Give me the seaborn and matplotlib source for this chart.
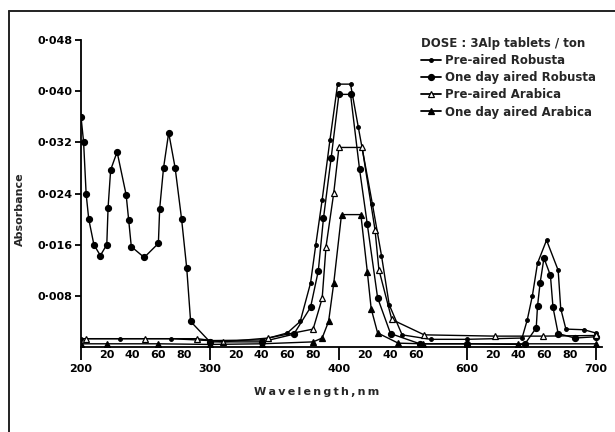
import numpy as np
import pandas as pd
import matplotlib
matplotlib.use("Agg")
import matplotlib.pyplot as plt
from matplotlib.lines import Line2D
import seaborn as sns

# ---------------- data ----------------
series_names = ["Pre-aired Robusta", "One day aired Robusta",
                "Pre-aired Arabica", "One day aired Arabica"]

pre_robusta_wl = [200, 230, 270, 300, 340, 360, 370, 378, 382, 387, 393, 399, 409,
                  415, 426, 433, 439, 449, 500, 600, 643, 647, 651, 655, 662, 671,
                  673, 677, 691, 700]
pre_robusta_abs = [0.0013, 0.0013, 0.0013, 0.0010, 0.0011, 0.0022, 0.0040, 0.0100,
                   0.0159, 0.0230, 0.0323, 0.0411, 0.0411, 0.0344, 0.0223, 0.0143,
                   0.0066, 0.0019, 0.0012, 0.0012, 0.0014, 0.0042, 0.0080, 0.0131,
                   0.0167, 0.0120, 0.0060, 0.0028, 0.0027, 0.0022]

one_robusta_wl = [200, 202, 204, 206, 210, 215, 220, 221, 223, 228, 235, 237, 239,
                  249, 260, 261, 264, 268, 273, 278, 282, 285, 300, 340, 365, 378,
                  384, 388, 394, 400, 409, 416, 422, 430, 440, 470, 600, 645, 654,
                  655, 657, 660, 665, 667, 671, 684, 700]
one_robusta_abs = [0.0360, 0.0321, 0.0239, 0.0200, 0.0160, 0.0143, 0.0160, 0.0218,
                   0.0277, 0.0305, 0.0238, 0.0198, 0.0157, 0.0140, 0.0162, 0.0216,
                   0.0280, 0.0335, 0.0280, 0.0200, 0.0123, 0.0040, 0.0008, 0.0008,
                   0.0020, 0.0062, 0.0119, 0.0201, 0.0296, 0.0395, 0.0395, 0.0278,
                   0.0192, 0.0077, 0.0021, 0.0005, 0.0005, 0.0004, 0.0030, 0.0064,
                   0.0100, 0.0139, 0.0112, 0.0062, 0.0021, 0.0014, 0.0016]

pre_arabica_wl = [204, 250, 290, 310, 345, 380, 387, 390, 396, 400, 418, 428, 431,
                  441, 482, 622, 659, 700]
pre_arabica_abs = [0.0013, 0.0013, 0.0013, 0.0008, 0.0014, 0.0028, 0.0076, 0.0157,
                   0.0241, 0.0312, 0.0312, 0.0183, 0.0121, 0.0043, 0.0019, 0.0017,
                   0.0017, 0.0018]

one_arabica_wl = [200, 220, 260, 300, 340, 380, 387, 392, 396, 402, 417, 422, 425,
                  430, 446, 480, 600, 640, 700]
one_arabica_abs = [0.0005, 0.0005, 0.0005, 0.0004, 0.0005, 0.0008, 0.0014, 0.0040,
                   0.0100, 0.0207, 0.0207, 0.0118, 0.0060, 0.0022, 0.0006, 0.0005,
                   0.0005, 0.0005, 0.0005]

major_ticks = [200, 300, 400, 600, 700]
major_labels = ["200", "300", "400", "600", "700"]
minor_ticks = [220, 240, 260, 280, 320, 340, 360, 380, 420, 440, 460,
               620, 640, 660, 680]
minor_labels = ["20", "40", "60", "80", "20", "40", "60", "80", "20", "40", "60",
                "20", "40", "60", "80"]
y_ticks = [0.008, 0.016, 0.024, 0.032, 0.040, 0.048]
y_labels = ["0·008", "0·016", "0·024", "0·032", "0·040", "0·048"]

# ---------------- figure ----------------
sns.set_theme(style="white")
plt.rcParams["font.family"] = ["DejaVu Sans"]
plt.rcParams["font.weight"] = "bold"

fig = plt.figure(figsize=(6.15, 4.32), dpi=100)
W, H = 615, 432
ax = fig.add_axes([81 / W, 1 - 347 / H, (602 - 81) / W, (347 - 40) / H])

# broken wavelength axis (460-600 compressed)
WL_B = [100, 200, 460, 600, 800]
U_B = [-100, 0, 260, 299, 499]

def fwd(x):
    return np.interp(x, WL_B, U_B)

def inv(u):
    return np.interp(u, U_B, WL_B)

ax.set_xscale("function", functions=(fwd, inv))

styles = [
    dict(marker="o", markersize=2.6, markerfacecolor="black"),
    dict(marker="o", markersize=4.3, markerfacecolor="black"),
    dict(marker="^", markersize=4.6, markerfacecolor="white"),
    dict(marker="^", markersize=4.6, markerfacecolor="black"),
]
xs = [pre_robusta_wl, one_robusta_wl, pre_arabica_wl, one_arabica_wl]
ys = [pre_robusta_abs, one_robusta_abs, pre_arabica_abs, one_arabica_abs]

handles = []
for name, x, y, st in zip(series_names, xs, ys, styles):
    df = pd.DataFrame({"wl": x, "abs": y})
    sns.lineplot(data=df, x="wl", y="abs", ax=ax, sort=False, estimator=None,
                 color="black", linewidth=1.0, markeredgecolor="black",
                 markeredgewidth=0.9, legend=False, **st)
    handles.append(Line2D([], [], color="black", linewidth=1.3,
                          markeredgecolor="black", markeredgewidth=0.9, **st))

ax.set_xlim(200, 705)
ax.set_ylim(0, 0.048)

for s in ["top", "right"]:
    ax.spines[s].set_visible(False)
for s in ["left", "bottom"]:
    ax.spines[s].set_color("black")
    ax.spines[s].set_linewidth(1.3)

ax.set_xticks(major_ticks)
ax.set_xticklabels(major_labels)
ax.set_xticks(minor_ticks, minor=True)
ax.set_xticklabels(minor_labels, minor=True)
ax.tick_params(axis="x", which="major", direction="out", length=9, width=1.3,
               pad=3, labelsize=8, colors="black", bottom=True)
ax.tick_params(axis="x", which="minor", direction="out", length=0, pad=2,
               labelsize=8, colors="black", bottom=True)
ax.set_yticks(y_ticks)
ax.set_yticklabels(y_labels)
ax.tick_params(axis="y", which="major", direction="out", length=4, width=1.3,
               pad=2, labelsize=8, colors="black", left=True)
for lab in ax.get_xticklabels(minor=True) + ax.get_xticklabels() + ax.get_yticklabels():
    lab.set_fontweight("bold")

ax.set_xlabel("")
ax.set_ylabel("")
fig.text(20 / W, 1 - 209 / H, "Absorbance", rotation=90, ha="center", va="center",
         fontsize=8, fontweight="bold")
fig.text(317 / W, 1 - 392 / H, "\u2009".join("Wavelength,nm"), ha="center",
         va="center", fontsize=8, fontweight="bold")

leg = fig.legend(handles, series_names, title="DOSE : 3Alp tablets / ton",
                 loc="upper left", bbox_to_anchor=(421 / W, 1 - 37 / H),
                 frameon=False, fontsize=8.5, title_fontsize=8.5, handlelength=1.7,
                 handletextpad=0.35, labelspacing=0.35, borderpad=0,
                 borderaxespad=0, alignment="left")
leg.get_title().set_fontweight("bold")
for t in leg.get_texts():
    t.set_fontweight("bold")

# outer scan frame
fig.add_artist(Line2D([9 / W, 9 / W], [0, 1 - 11 / H], transform=fig.transFigure,
                      color="#222222", linewidth=1.4))
fig.add_artist(Line2D([9 / W, 1], [1 - 11 / H, 1 - 11 / H], transform=fig.transFigure,
                      color="#222222", linewidth=1.4))

fig.savefig("out.png", dpi=100, facecolor="white")
